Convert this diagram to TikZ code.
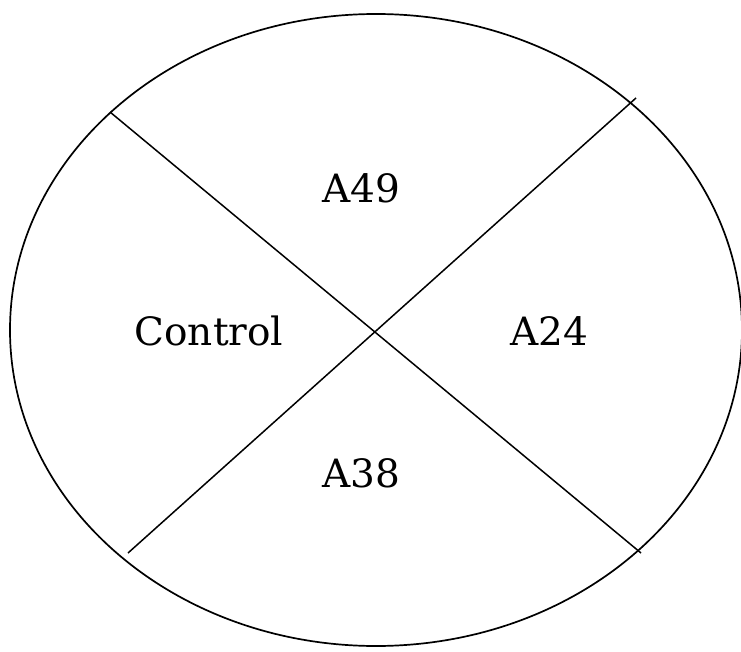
\documentclass[tikz,border=0pt]{standalone}
\usepackage{tikz}
\usepackage{fontspec}
\setmainfont{DejaVu Serif}

\begin{document}
\begin{tikzpicture}[
    x=1pt, y=-1pt,
    rand/.style={black, line width=1.7pt},
    teil/.style={black, line width=1.5pt},
    feld/.style={anchor=base, inner sep=0pt, font=\fontsize{39}{46}\selectfont}
]

% Rahmen (741 x 652)
\useasboundingbox (0, 0) rectangle (741, 652);

% Schale
\draw[rand] (376, 330) ellipse[x radius=366, y radius=-316];

% Trennlinien
\coordinate (ol) at (110, 112);
\coordinate (ur) at (641, 553);
\coordinate (or) at (636, 98);
\coordinate (ul) at (128, 553);
\draw[teil] (ol) -- (ur);
\draw[teil] (or) -- (ul);

% Felder
\node[feld] (a49) at (361, 203) {A49};
\node[feld] (ctrl) at (209, 345) {Control};
\node[feld] (a24) at (549, 345) {A24};
\node[feld] (a38) at (361, 487) {A38};

\end{tikzpicture}
\end{document}
